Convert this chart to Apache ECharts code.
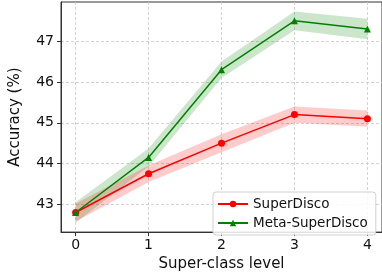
<!DOCTYPE html>
<html lang="en">
<head>
    <meta charset="UTF-8">
    <title>Accuracy vs super-class level</title>
    <style>
        html, body { margin: 0; padding: 0; background: #fff; }
        #container { width: 382px; height: 277px; }
    </style>
</head>
<body>
    <div id="container"></div>
    <script src="https://cdn.jsdelivr.net/npm/echarts@6/dist/echarts.min.js"></script>
    <script>
        // data
        const levels = [0, 1, 2, 3, 4];
        const superDisco = [42.8, 43.75, 44.5, 45.2, 45.1];
        const superDiscoStd = [0.22, 0.2, 0.22, 0.2, 0.2];
        const metaSuperDisco = [42.8, 44.15, 46.3, 47.5, 47.3];
        const metaSuperDiscoStd = [0.25, 0.22, 0.2, 0.23, 0.25];
        const yTicks = [43, 44, 45, 46, 47];

        const pts = (arr) => levels.map((x, i) => [x, arr[i]]);

        // shaded +/- std band, drawn as one polygon through the axis scales
        function band(name, m, s, color) {
            return {
                name: name, type: 'custom', silent: true, z: 1,
                data: levels.map((x, i) => [x, m[i] - s[i], m[i] + s[i]]),
                renderItem: function (params, api) {
                    if (params.dataIndex !== 0) return;
                    const up = levels.map((x, i) => api.coord([x, m[i] + s[i]]));
                    const lo = levels.map((x, i) => api.coord([x, m[i] - s[i]])).reverse();
                    return {
                        type: 'polygon',
                        shape: { points: up.concat(lo) },
                        style: { fill: color }
                    };
                },
                encode: { x: 0, y: [1, 2] }
            };
        }

        const font = 'DejaVu Sans';
        const option = {
            animation: false,
            textStyle: { fontFamily: font },
            grid: {
                left: 61, top: 2, width: 322, bottom: 37,
                show: true, borderColor: '#333', borderWidth: 1
            },
            legend: {
                data: ['SuperDisco', 'Meta-SuperDisco'],
                orient: 'vertical',
                left: 213, top: 192,
                padding: [5, 8, 5, 4],
                itemGap: 5,
                itemWidth: 30, itemHeight: 8,
                backgroundColor: 'rgba(255,255,255,0.85)',
                borderColor: '#d0d0d0', borderWidth: 1, borderRadius: 3,
                textStyle: { fontFamily: font, fontSize: 13.5, color: '#111' }
            },
            xAxis: {
                type: 'value', min: -0.2, max: 4.2,
                name: 'Super-class level', nameLocation: 'middle', nameGap: 21,
                nameTextStyle: { fontFamily: font, fontSize: 15, color: '#111' },
                axisLine: { show: true, onZero: false, lineStyle: { color: '#333' } },
                axisTick: { show: true, length: 4, customValues: levels, lineStyle: { color: '#333' } },
                axisLabel: { customValues: levels, fontSize: 14, color: '#111', margin: 6 },
                splitLine: { show: true, lineStyle: { color: '#c8c8c8', type: [3, 2], width: 0.8 } }
            },
            yAxis: {
                type: 'value', min: 42.32, max: 47.96,
                name: 'Accuracy (%)', nameLocation: 'middle', nameGap: 38,
                nameTextStyle: { fontFamily: font, fontSize: 15, color: '#111' },
                axisLine: { show: true, onZero: false, lineStyle: { color: '#333' } },
                axisTick: { show: true, length: 4, customValues: yTicks, lineStyle: { color: '#333' } },
                axisLabel: { customValues: yTicks, fontSize: 14, color: '#111', margin: 7 },
                splitLine: { show: true, lineStyle: { color: '#c8c8c8', type: [3, 2], width: 0.8 } }
            },
            series: [
                band('meta-band', metaSuperDisco, metaSuperDiscoStd, 'rgba(0,128,0,0.2)'),
                band('sd-band', superDisco, superDiscoStd, 'rgba(255,0,0,0.2)'),
                {
                    name: 'SuperDisco', type: 'line', data: pts(superDisco),
                    color: '#ff0000', symbol: 'circle', symbolSize: 7,
                    lineStyle: { width: 1.5 }, z: 3
                },
                {
                    name: 'Meta-SuperDisco', type: 'line', data: pts(metaSuperDisco),
                    color: '#008000', symbol: 'triangle', symbolSize: 7,
                    lineStyle: { width: 1.5 }, z: 4
                }
            ]
        };

        const chart = echarts.init(document.getElementById('container'));
        chart.setOption(option);
    </script>
</body>
</html>
